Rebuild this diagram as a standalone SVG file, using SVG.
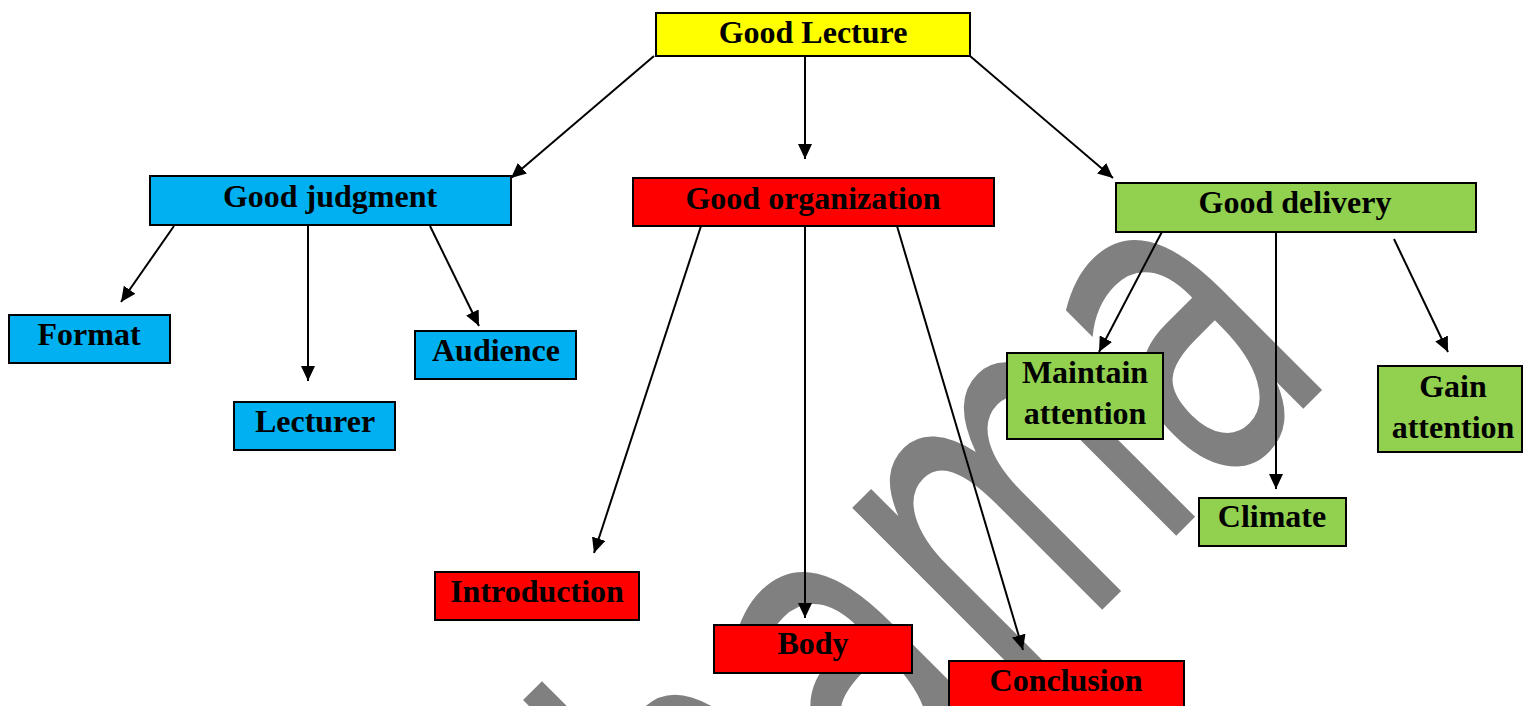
<svg xmlns="http://www.w3.org/2000/svg" width="1523" height="706" viewBox="0 0 1523 706">
<style>
.box{stroke:#000;stroke-width:2}
.y{fill:#FFFF00}.b{fill:#00B0F0}.r{fill:#FF0000}.g{fill:#92D050}
.t{font-family:"Liberation Serif","Times New Roman",serif;font-weight:bold;font-size:32px;fill:#000;text-anchor:middle}
.c line{stroke:#000;stroke-width:2;marker-end:url(#ah)}
.wm{font-family:"DejaVu Sans",sans-serif;font-size:455px;fill:#808080}
</style>
<defs>
<marker id="ah" markerUnits="userSpaceOnUse" markerWidth="16" markerHeight="14" refX="15" refY="7" orient="auto">
<path d="M0,0 L15,7 L0,14 Z" fill="#000"/>
</marker>
</defs>
<rect width="1523" height="706" fill="#fff"/>
<g id="watermark">
<text class="wm" transform="translate(748.5,963.5) rotate(-45) scale(0.65,1)" x="0" y="0">hama</text>
</g>
<g id="connectors" class="c">
<line x1="654" y1="56" x2="511" y2="178"/>
<line x1="805" y1="56" x2="805" y2="159"/>
<line x1="970" y1="56" x2="1113" y2="178"/>
<line x1="174" y1="226" x2="121" y2="302"/>
<line x1="308" y1="226" x2="308" y2="381"/>
<line x1="430" y1="226" x2="479" y2="326"/>
<line x1="701" y1="226" x2="594" y2="553"/>
<line x1="805" y1="226" x2="805" y2="618"/>
<line x1="897" y1="226" x2="1023" y2="650"/>
<line x1="1165" y1="226" x2="1099" y2="352"/>
<line x1="1276" y1="226" x2="1276" y2="489"/>
<line x1="1394" y1="239" x2="1448" y2="352"/>
</g>
<g id="good-lecture"><rect class="box y" x="656" y="13" width="314" height="43"/><text class="t" x="813" y="43">Good Lecture</text></g>
<g id="good-judgment"><rect class="box b" x="150" y="176" width="361" height="49"/><text class="t" x="330" y="207">Good judgment</text></g>
<g id="good-organization"><rect class="box r" x="633" y="178" width="361" height="48"/><text class="t" x="813" y="209">Good organization</text></g>
<g id="good-delivery"><rect class="box g" x="1116" y="183" width="360" height="49"/><text class="t" x="1295" y="213">Good delivery</text></g>
<g id="format"><rect class="box b" x="9" y="315" width="161" height="48"/><text class="t" x="89" y="345">Format</text></g>
<g id="lecturer"><rect class="box b" x="234" y="402" width="161" height="48"/><text class="t" x="315" y="432">Lecturer</text></g>
<g id="audience"><rect class="box b" x="415" y="331" width="161" height="48"/><text class="t" x="496" y="361">Audience</text></g>
<g id="introduction"><rect class="box r" x="435" y="572" width="204" height="48"/><text class="t" x="537" y="602">Introduction</text></g>
<g id="body"><rect class="box r" x="714" y="625" width="198" height="48"/><text class="t" x="813" y="654">Body</text></g>
<g id="conclusion"><rect class="box r" x="949" y="661" width="235" height="50"/><text class="t" x="1066" y="691">Conclusion</text></g>
<g id="maintain-attention"><rect class="box g" x="1007" y="353" width="156" height="86"/><text class="t" x="1085" y="383">Maintain</text><text class="t" x="1085" y="424">attention</text></g>
<g id="gain-attention"><rect class="box g" x="1378" y="366" width="144" height="86"/><text class="t" x="1453" y="397">Gain</text><text class="t" x="1453" y="438">attention</text></g>
<g id="climate"><rect class="box g" x="1199" y="498" width="147" height="48"/><text class="t" x="1272" y="527">Climate</text></g>
</svg>
